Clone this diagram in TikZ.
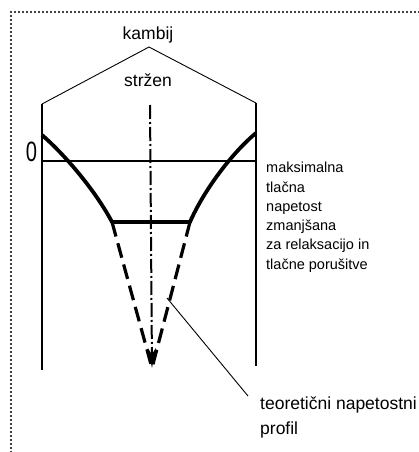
\documentclass[tikz,border=0pt]{standalone}
\usepackage{fontspec}
\setmainfont{Liberation Sans}
\newfontfamily\narrowfont{Liberation Sans}[FakeStretch=0.72]
\usepackage{tikz}
\usetikzlibrary{arrows.meta,positioning}

\begin{document}
\begin{tikzpicture}[x=1pt,y=-1pt,
    label/.style={inner sep=0pt, font=\fontsize{17.5}{20}\selectfont},
    note/.style={inner sep=0pt, align=left, font=\fontsize{14.5}{19.3}\selectfont},
    wall/.style={line width=2.7pt},
    profile/.style={line width=3.8pt, line join=round},
    theory/.style={line width=3.2pt, dash pattern=on 15pt off 7pt},
    axis/.style={line width=2pt, dash pattern=on 14pt off 3pt on 2pt off 3pt},
    leader/.style={line width=0.9pt},
    frame/.style={line width=2.2pt, line cap=round, dash pattern=on 0pt off 4pt},
]
\useasboundingbox (0,0) rectangle (419,452);

% dotted frame
\coordinate (fr) at (419,12);
\coordinate (fc) at (11,12);
\coordinate (fb) at (11,452);
\draw[frame] (fr) -- (fc) -- (fb);

% points of the section
\coordinate (lt) at (42,104);
\coordinate (lb) at (42,370);
\coordinate (rt) at (256,103);
\coordinate (rb) at (256,366);
\coordinate (ct) at (150,105);
\coordinate (tip) at (152,368);
\coordinate (apex) at (149,47);
\coordinate (l0) at (42,135);
\coordinate (r0) at (256,133);
\coordinate (bl) at (112,222);
\coordinate (br) at (190,222);
\coordinate (hl) at (42,161);
\coordinate (hr) at (256,161);
\coordinate (hint) at (167,298);
\coordinate (hintend) at (248,396);

% texts
\node[label,anchor=base] (kambij) at (148,40) {kambij};
\node[label,anchor=base] (strzen) at (148,86) {stržen};
\node[anchor=base,inner sep=0pt,font=\narrowfont\fontsize{28}{28}\selectfont] (nic) at (31.5,161) {0};
\node[note,anchor=north west] (maks) at (266,162)
    {maksimalna\\tlačna\\napetost\\zmanjšana\\za relaksacijo in\\tlačne porušitve};
\node[label,font=\fontsize{17.5}{25}\selectfont,align=left,anchor=north west] (teor) at (260,397)
    {teoretični napetostni\\profil};

% drawing
\draw[leader] (lt) -- (apex) -- (rt);
\draw[wall] (lt) -- (lb);
\draw[wall] (rt) -- (rb);
\draw[wall] (hl) -- (hr);
\draw[axis,-{Stealth[length=20pt,width=8pt]}] (ct) -- (tip);
\draw[profile] (l0) .. controls (65,155) and (95,190) .. (bl) -- (br)
    .. controls (204,190) and (232,153) .. (r0);
\draw[theory] (bl) -- (tip);
\draw[theory] (br) -- (tip);
\draw[leader] (hint) -- (hintend);
\end{tikzpicture}
\end{document}
